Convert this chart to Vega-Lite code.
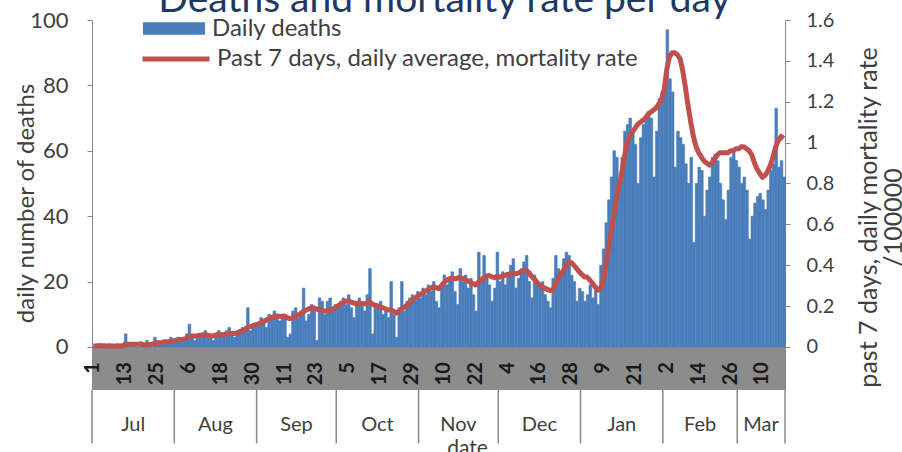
{
"$schema": "https://vega.github.io/schema/vega-lite/v6.json",
"width": 693, "height": 370,
"autosize": {"type": "none"},
"padding": {"left": 92, "top": 20, "right": 117, "bottom": 62},
"config": {"view": {"stroke": null}, "font": "Lato",
"axisX": {"labels": false, "ticks": false, "domain": false, "grid": false, "zindex": 1, "titleFontSize": 21, "titleFontWeight": "normal", "titleColor": "#404040", "titleX": 375, "titleY": 64, "titleBaseline": "alphabetic", "titleAlign": "center"}},
"title": {"text": "Deaths and mortality rate per day", "fontSize": 39, "fontWeight": "normal", "color": "#1f3864", "anchor": "middle", "dx": 6, "offset": -53, "baseline": "alphabetic"},
"datasets": {
"days": [
{"t": "2020-07-01T12:00:00Z", "lab": "1"},{"t": "2020-07-13T12:00:00Z", "lab": "13"},{"t": "2020-07-25T12:00:00Z", "lab": "25"},
{"t": "2020-08-06T12:00:00Z", "lab": "6"},{"t": "2020-08-18T12:00:00Z", "lab": "18"},{"t": "2020-08-30T12:00:00Z", "lab": "30"},
{"t": "2020-09-11T12:00:00Z", "lab": "11"},{"t": "2020-09-23T12:00:00Z", "lab": "23"},
{"t": "2020-10-05T12:00:00Z", "lab": "5"},{"t": "2020-10-17T12:00:00Z", "lab": "17"},{"t": "2020-10-29T12:00:00Z", "lab": "29"},
{"t": "2020-11-10T12:00:00Z", "lab": "10"},{"t": "2020-11-22T12:00:00Z", "lab": "22"},
{"t": "2020-12-04T12:00:00Z", "lab": "4"},{"t": "2020-12-16T12:00:00Z", "lab": "16"},{"t": "2020-12-28T12:00:00Z", "lab": "28"},
{"t": "2021-01-09T12:00:00Z", "lab": "9"},{"t": "2021-01-21T12:00:00Z", "lab": "21"},
{"t": "2021-02-02T12:00:00Z", "lab": "2"},{"t": "2021-02-14T12:00:00Z", "lab": "14"},{"t": "2021-02-26T12:00:00Z", "lab": "26"},
{"t": "2021-03-10T12:00:00Z", "lab": "10"}
],
"months": [
{"m": "Jul", "mid": "2020-07-16T12:00:00Z"},
{"m": "Aug", "mid": "2020-08-16T12:00:00Z"},
{"m": "Sep", "mid": "2020-09-16T00:00:00Z"},
{"m": "Oct", "mid": "2020-10-16T12:00:00Z"},
{"m": "Nov", "mid": "2020-11-16T00:00:00Z"},
{"m": "Dec", "mid": "2020-12-16T12:00:00Z"},
{"m": "Jan", "mid": "2021-01-16T12:00:00Z"},
{"m": "Feb", "mid": "2021-02-15T00:00:00Z"},
{"m": "Mar", "mid": "2021-03-10T00:00:00Z"}
],
"bounds": [
{"b": "2020-07-01T00:00:00Z"},{"b": "2020-08-01T00:00:00Z"},{"b": "2020-09-01T00:00:00Z"},{"b": "2020-10-01T00:00:00Z"},{"b": "2020-11-01T00:00:00Z"},{"b": "2020-12-01T00:00:00Z"},{"b": "2021-01-01T00:00:00Z"},{"b": "2021-02-01T00:00:00Z"},{"b": "2021-03-01T00:00:00Z"},{"b": "2021-03-19T00:00:00Z"}
],
"daily": [
{"d":"2020-07-01","deaths":0,"rate":0.005},{"d":"2020-07-02","deaths":0,"rate":0.005},{"d":"2020-07-03","deaths":1,"rate":0.006},{"d":"2020-07-04","deaths":0,"rate":0.006},{"d":"2020-07-05","deaths":0,"rate":0.006},{"d":"2020-07-06","deaths":0,"rate":0.005},{"d":"2020-07-07","deaths":1,"rate":0.005},{"d":"2020-07-08","deaths":0,"rate":0.005},{"d":"2020-07-09","deaths":0,"rate":0.005},{"d":"2020-07-10","deaths":1,"rate":0.005},
{"d":"2020-07-11","deaths":0,"rate":0.005},{"d":"2020-07-12","deaths":0,"rate":0.005},{"d":"2020-07-13","deaths":4,"rate":0.014},{"d":"2020-07-14","deaths":1,"rate":0.014},{"d":"2020-07-15","deaths":0,"rate":0.014},{"d":"2020-07-16","deaths":1,"rate":0.014},{"d":"2020-07-17","deaths":0,"rate":0.014},{"d":"2020-07-18","deaths":0,"rate":0.014},{"d":"2020-07-19","deaths":1,"rate":0.016},{"d":"2020-07-20","deaths":1,"rate":0.010},
{"d":"2020-07-21","deaths":2,"rate":0.011},{"d":"2020-07-22","deaths":1,"rate":0.011},{"d":"2020-07-23","deaths":0,"rate":0.014},{"d":"2020-07-24","deaths":3,"rate":0.016},{"d":"2020-07-25","deaths":2,"rate":0.021},{"d":"2020-07-26","deaths":1,"rate":0.021},{"d":"2020-07-27","deaths":2,"rate":0.022},{"d":"2020-07-28","deaths":2,"rate":0.026},{"d":"2020-07-29","deaths":1,"rate":0.026},{"d":"2020-07-30","deaths":3,"rate":0.027},
{"d":"2020-07-31","deaths":2,"rate":0.030},
{"d":"2020-08-01","deaths":2,"rate":0.032},{"d":"2020-08-02","deaths":3,"rate":0.037},{"d":"2020-08-03","deaths":2,"rate":0.037},{"d":"2020-08-04","deaths":3,"rate":0.038},{"d":"2020-08-05","deaths":4,"rate":0.043},{"d":"2020-08-06","deaths":7,"rate":0.054},{"d":"2020-08-07","deaths":3,"rate":0.054},{"d":"2020-08-08","deaths":2,"rate":0.054},{"d":"2020-08-09","deaths":3,"rate":0.054},{"d":"2020-08-10","deaths":4,"rate":0.058},
{"d":"2020-08-11","deaths":3,"rate":0.059},{"d":"2020-08-12","deaths":5,"rate":0.062},{"d":"2020-08-13","deaths":4,"rate":0.058},{"d":"2020-08-14","deaths":3,"rate":0.054},{"d":"2020-08-15","deaths":2,"rate":0.054},{"d":"2020-08-16","deaths":4,"rate":0.058},{"d":"2020-08-17","deaths":5,"rate":0.062},{"d":"2020-08-18","deaths":4,"rate":0.062},{"d":"2020-08-19","deaths":3,"rate":0.059},{"d":"2020-08-20","deaths":5,"rate":0.064},
{"d":"2020-08-21","deaths":6,"rate":0.066},{"d":"2020-08-22","deaths":4,"rate":0.066},{"d":"2020-08-23","deaths":3,"rate":0.066},{"d":"2020-08-24","deaths":5,"rate":0.066},{"d":"2020-08-25","deaths":5,"rate":0.074},{"d":"2020-08-26","deaths":6,"rate":0.080},{"d":"2020-08-27","deaths":6,"rate":0.083},{"d":"2020-08-28","deaths":12,"rate":0.096},{"d":"2020-08-29","deaths":5,"rate":0.099},{"d":"2020-08-30","deaths":7,"rate":0.104},
{"d":"2020-08-31","deaths":7,"rate":0.109},
{"d":"2020-09-01","deaths":7,"rate":0.112},{"d":"2020-09-02","deaths":9,"rate":0.118},{"d":"2020-09-03","deaths":8,"rate":0.125},{"d":"2020-09-04","deaths":6,"rate":0.130},{"d":"2020-09-05","deaths":10,"rate":0.138},{"d":"2020-09-06","deaths":9,"rate":0.144},{"d":"2020-09-07","deaths":11,"rate":0.149},{"d":"2020-09-08","deaths":10,"rate":0.152},{"d":"2020-09-09","deaths":8,"rate":0.150},{"d":"2020-09-10","deaths":10,"rate":0.149},
{"d":"2020-09-11","deaths":9,"rate":0.152},{"d":"2020-09-12","deaths":3,"rate":0.144},{"d":"2020-09-13","deaths":4,"rate":0.139},{"d":"2020-09-14","deaths":11,"rate":0.142},{"d":"2020-09-15","deaths":12,"rate":0.149},{"d":"2020-09-16","deaths":9,"rate":0.157},{"d":"2020-09-17","deaths":11,"rate":0.160},{"d":"2020-09-18","deaths":18,"rate":0.173},{"d":"2020-09-19","deaths":8,"rate":0.179},{"d":"2020-09-20","deaths":10,"rate":0.186},
{"d":"2020-09-21","deaths":13,"rate":0.190},{"d":"2020-09-22","deaths":12,"rate":0.192},{"d":"2020-09-23","deaths":2,"rate":0.186},{"d":"2020-09-24","deaths":15,"rate":0.182},{"d":"2020-09-25","deaths":14,"rate":0.179},{"d":"2020-09-26","deaths":10,"rate":0.176},{"d":"2020-09-27","deaths":14,"rate":0.176},{"d":"2020-09-28","deaths":15,"rate":0.178},{"d":"2020-09-29","deaths":12,"rate":0.184},{"d":"2020-09-30","deaths":13,"rate":0.192},
{"d":"2020-10-01","deaths":12,"rate":0.200},{"d":"2020-10-02","deaths":14,"rate":0.208},{"d":"2020-10-03","deaths":15,"rate":0.218},{"d":"2020-10-04","deaths":13,"rate":0.224},{"d":"2020-10-05","deaths":16,"rate":0.226},{"d":"2020-10-06","deaths":12,"rate":0.221},{"d":"2020-10-07","deaths":9,"rate":0.216},{"d":"2020-10-08","deaths":14,"rate":0.211},{"d":"2020-10-09","deaths":15,"rate":0.213},{"d":"2020-10-10","deaths":13,"rate":0.214},
{"d":"2020-10-11","deaths":11,"rate":0.211},{"d":"2020-10-12","deaths":16,"rate":0.214},{"d":"2020-10-13","deaths":24,"rate":0.222},{"d":"2020-10-14","deaths":4,"rate":0.210},{"d":"2020-10-15","deaths":13,"rate":0.205},{"d":"2020-10-16","deaths":12,"rate":0.202},{"d":"2020-10-17","deaths":14,"rate":0.197},{"d":"2020-10-18","deaths":10,"rate":0.192},{"d":"2020-10-19","deaths":11,"rate":0.187},{"d":"2020-10-20","deaths":9,"rate":0.181},
{"d":"2020-10-21","deaths":20,"rate":0.182},{"d":"2020-10-22","deaths":10,"rate":0.176},{"d":"2020-10-23","deaths":3,"rate":0.166},{"d":"2020-10-24","deaths":12,"rate":0.173},{"d":"2020-10-25","deaths":20,"rate":0.186},{"d":"2020-10-26","deaths":11,"rate":0.192},{"d":"2020-10-27","deaths":14,"rate":0.203},{"d":"2020-10-28","deaths":15,"rate":0.214},{"d":"2020-10-29","deaths":16,"rate":0.227},{"d":"2020-10-30","deaths":14,"rate":0.237},
{"d":"2020-10-31","deaths":17,"rate":0.248},
{"d":"2020-11-01","deaths":15,"rate":0.256},{"d":"2020-11-02","deaths":18,"rate":0.264},{"d":"2020-11-03","deaths":16,"rate":0.272},{"d":"2020-11-04","deaths":19,"rate":0.280},{"d":"2020-11-05","deaths":17,"rate":0.288},{"d":"2020-11-06","deaths":20,"rate":0.294},{"d":"2020-11-07","deaths":14,"rate":0.291},{"d":"2020-11-08","deaths":12,"rate":0.285},{"d":"2020-11-09","deaths":18,"rate":0.298},{"d":"2020-11-10","deaths":22,"rate":0.314},
{"d":"2020-11-11","deaths":19,"rate":0.328},{"d":"2020-11-12","deaths":21,"rate":0.333},{"d":"2020-11-13","deaths":23,"rate":0.339},{"d":"2020-11-14","deaths":17,"rate":0.334},{"d":"2020-11-15","deaths":13,"rate":0.336},{"d":"2020-11-16","deaths":24,"rate":0.341},{"d":"2020-11-17","deaths":20,"rate":0.336},{"d":"2020-11-18","deaths":22,"rate":0.330},{"d":"2020-11-19","deaths":18,"rate":0.323},{"d":"2020-11-20","deaths":21,"rate":0.317},
{"d":"2020-11-21","deaths":16,"rate":0.310},{"d":"2020-11-22","deaths":11,"rate":0.304},{"d":"2020-11-23","deaths":29,"rate":0.317},{"d":"2020-11-24","deaths":20,"rate":0.326},{"d":"2020-11-25","deaths":28,"rate":0.339},{"d":"2020-11-26","deaths":22,"rate":0.347},{"d":"2020-11-27","deaths":19,"rate":0.350},{"d":"2020-11-28","deaths":14,"rate":0.344},{"d":"2020-11-29","deaths":18,"rate":0.339},{"d":"2020-11-30","deaths":29,"rate":0.346},
{"d":"2020-12-01","deaths":20,"rate":0.342},{"d":"2020-12-02","deaths":23,"rate":0.346},{"d":"2020-12-03","deaths":19,"rate":0.350},{"d":"2020-12-04","deaths":22,"rate":0.355},{"d":"2020-12-05","deaths":25,"rate":0.358},{"d":"2020-12-06","deaths":27,"rate":0.362},{"d":"2020-12-07","deaths":18,"rate":0.358},{"d":"2020-12-08","deaths":21,"rate":0.362},{"d":"2020-12-09","deaths":24,"rate":0.368},{"d":"2020-12-10","deaths":26,"rate":0.373},
{"d":"2020-12-11","deaths":28,"rate":0.376},{"d":"2020-12-12","deaths":20,"rate":0.365},{"d":"2020-12-13","deaths":15,"rate":0.346},{"d":"2020-12-14","deaths":22,"rate":0.333},{"d":"2020-12-15","deaths":19,"rate":0.318},{"d":"2020-12-16","deaths":18,"rate":0.304},{"d":"2020-12-17","deaths":20,"rate":0.293},{"d":"2020-12-18","deaths":16,"rate":0.288},{"d":"2020-12-19","deaths":14,"rate":0.282},{"d":"2020-12-20","deaths":12,"rate":0.277},
{"d":"2020-12-21","deaths":21,"rate":0.278},{"d":"2020-12-22","deaths":28,"rate":0.304},{"d":"2020-12-23","deaths":24,"rate":0.330},{"d":"2020-12-24","deaths":22,"rate":0.352},{"d":"2020-12-25","deaths":27,"rate":0.374},{"d":"2020-12-26","deaths":29,"rate":0.397},{"d":"2020-12-27","deaths":28,"rate":0.416},{"d":"2020-12-28","deaths":22,"rate":0.413},{"d":"2020-12-29","deaths":20,"rate":0.400},{"d":"2020-12-30","deaths":14,"rate":0.384},
{"d":"2020-12-31","deaths":18,"rate":0.368},
{"d":"2021-01-01","deaths":17,"rate":0.355},{"d":"2021-01-02","deaths":14,"rate":0.342},{"d":"2021-01-03","deaths":16,"rate":0.342},{"d":"2021-01-04","deaths":19,"rate":0.328},{"d":"2021-01-05","deaths":15,"rate":0.312},{"d":"2021-01-06","deaths":18,"rate":0.294},{"d":"2021-01-07","deaths":13,"rate":0.278},{"d":"2021-01-08","deaths":25,"rate":0.288},{"d":"2021-01-09","deaths":30,"rate":0.320},{"d":"2021-01-10","deaths":38,"rate":0.400},
{"d":"2021-01-11","deaths":45,"rate":0.480},{"d":"2021-01-12","deaths":52,"rate":0.560},{"d":"2021-01-13","deaths":60,"rate":0.640},{"d":"2021-01-14","deaths":58,"rate":0.720},{"d":"2021-01-15","deaths":48,"rate":0.790},{"d":"2021-01-16","deaths":58,"rate":0.850},{"d":"2021-01-17","deaths":66,"rate":0.930},{"d":"2021-01-18","deaths":68,"rate":1.000},{"d":"2021-01-19","deaths":70,"rate":1.030},{"d":"2021-01-20","deaths":66,"rate":1.050},
{"d":"2021-01-21","deaths":62,"rate":1.070},{"d":"2021-01-22","deaths":50,"rate":1.090},{"d":"2021-01-23","deaths":64,"rate":1.100},{"d":"2021-01-24","deaths":68,"rate":1.110},{"d":"2021-01-25","deaths":70,"rate":1.120},{"d":"2021-01-26","deaths":72,"rate":1.140},{"d":"2021-01-27","deaths":70,"rate":1.150},{"d":"2021-01-28","deaths":52,"rate":1.160},{"d":"2021-01-29","deaths":66,"rate":1.170},{"d":"2021-01-30","deaths":76,"rate":1.190},
{"d":"2021-01-31","deaths":78,"rate":1.210},
{"d":"2021-02-01","deaths":80,"rate":1.260},{"d":"2021-02-02","deaths":97,"rate":1.360},{"d":"2021-02-03","deaths":82,"rate":1.420},{"d":"2021-02-04","deaths":78,"rate":1.440},{"d":"2021-02-05","deaths":55,"rate":1.440},{"d":"2021-02-06","deaths":66,"rate":1.430},{"d":"2021-02-07","deaths":64,"rate":1.410},{"d":"2021-02-08","deaths":62,"rate":1.350},{"d":"2021-02-09","deaths":56,"rate":1.270},{"d":"2021-02-10","deaths":50,"rate":1.180},
{"d":"2021-02-11","deaths":58,"rate":1.100},{"d":"2021-02-12","deaths":32,"rate":1.030},{"d":"2021-02-13","deaths":50,"rate":0.980},{"d":"2021-02-14","deaths":55,"rate":0.950},{"d":"2021-02-15","deaths":54,"rate":0.930},{"d":"2021-02-16","deaths":40,"rate":0.910},{"d":"2021-02-17","deaths":48,"rate":0.900},{"d":"2021-02-18","deaths":52,"rate":0.890},{"d":"2021-02-19","deaths":58,"rate":0.900},{"d":"2021-02-20","deaths":59,"rate":0.920},
{"d":"2021-02-21","deaths":57,"rate":0.940},{"d":"2021-02-22","deaths":50,"rate":0.950},{"d":"2021-02-23","deaths":45,"rate":0.950},{"d":"2021-02-24","deaths":39,"rate":0.950},{"d":"2021-02-25","deaths":48,"rate":0.950},{"d":"2021-02-26","deaths":58,"rate":0.960},{"d":"2021-02-27","deaths":60,"rate":0.960},{"d":"2021-02-28","deaths":57,"rate":0.970},
{"d":"2021-03-01","deaths":55,"rate":0.970},{"d":"2021-03-02","deaths":50,"rate":0.980},{"d":"2021-03-03","deaths":52,"rate":0.980},{"d":"2021-03-04","deaths":48,"rate":0.970},{"d":"2021-03-05","deaths":33,"rate":0.960},{"d":"2021-03-06","deaths":40,"rate":0.940},{"d":"2021-03-07","deaths":44,"rate":0.900},{"d":"2021-03-08","deaths":46,"rate":0.870},{"d":"2021-03-09","deaths":47,"rate":0.850},{"d":"2021-03-10","deaths":45,"rate":0.830},
{"d":"2021-03-11","deaths":42,"rate":0.840},{"d":"2021-03-12","deaths":48,"rate":0.860},{"d":"2021-03-13","deaths":54,"rate":0.890},{"d":"2021-03-14","deaths":56,"rate":0.930},{"d":"2021-03-15","deaths":73,"rate":0.980},{"d":"2021-03-16","deaths":55,"rate":1.010},{"d":"2021-03-17","deaths":57,"rate":1.030},{"d":"2021-03-18","deaths":52,"rate":1.020}
]
},
"layer": [
{
"layer": [
{
"data": {"values": [{}]},
"mark": {"type": "rect", "color": "#8c8c8c"},
"encoding": {"y": {"datum": -13.15}, "y2": {"datum": 0}}
},
{
"data": {"name": "daily"},
"mark": {"type": "bar", "binSpacing": 0, "stroke": "#4a7ebb", "strokeWidth": 0.6},
"encoding": {
"x": {"field": "d", "type": "temporal", "timeUnit": "utcyearmonthdate", "title": "date",
"scale": {"type": "utc", "domain": [{"year": 2020, "month": 7, "date": 1, "utc": true}, {"year": 2021, "month": 3, "date": 19, "utc": true}]},
"axis": {"title": "date", "labels": false, "ticks": false, "domain": false, "grid": false, "zindex": 1}},
"y": {"field": "deaths", "type": "quantitative", "scale": {"domain": [-13.15, 100], "nice": false, "zero": false},
"axis": {"title": "daily number of deaths", "values": [0,10,20,30,40,50,60,70,80,90,100], "grid": false, "domainColor": "#868686", "tickColor": "#868686", "tickSize": 5,
"labelFontSize": 22, "labelColor": "#404040", "labelPadding": 19, "titleFontSize": 24, "titleFontWeight": "normal", "titleColor": "#404040", "titleAngle": 270, "titleX": -66, "titleY": 183, "titleBaseline": "middle", "titleAlign": "center"}},
"y2": {"datum": 0},
"fill": {"datum": "Daily deaths", "scale": {"range": ["#4a7ebb"]},
"legend": {"orient": "none", "legendX": 51, "legendY": -22.5, "title": null, "padding": 0, "symbolType": "M-1,-0.2H1V0.2H-1Z", "symbolSize": 3844, "symbolStrokeWidth": 0, "labelFontSize": 24, "labelColor": "#404040", "labelOffset": 7, "labelLimit": 0}}
}
},
{
"data": {"name": "days"},
"mark": {"type": "text", "angle": 270, "align": "right", "baseline": "middle", "fontSize": 20, "fontWeight": "bold", "color": "#1a1a1a"},
"encoding": {"x": {"field": "t", "type": "temporal", "title": "date", "axis": {"title": "date", "labels": false, "ticks": false, "domain": false, "grid": false, "zindex": 1}}, "y": {"datum": -4.6}, "text": {"field": "lab"}}
},
{
"data": {"name": "bounds"},
"mark": {"type": "rule", "color": "#8a8a8a", "strokeWidth": 1.5},
"encoding": {"x": {"field": "b", "type": "temporal", "title": "date", "axis": {"title": "date", "labels": false, "ticks": false, "domain": false, "grid": false, "zindex": 1}}, "y": {"datum": -13.15}, "y2": {"datum": -29.5}}
},
{
"data": {"name": "months"},
"mark": {"type": "text", "fontSize": 20, "color": "#404040", "baseline": "middle", "align": "center"},
"encoding": {"x": {"field": "mid", "type": "temporal", "title": "date", "axis": {"title": "date", "labels": false, "ticks": false, "domain": false, "grid": false, "zindex": 1}}, "y": {"datum": -24}, "text": {"field": "m"}}
}
]
},
{
"data": {"name": "daily"},
"mark": {"type": "line", "strokeWidth": 5, "strokeJoin": "round"},
"encoding": {
"x": {"field": "d", "type": "temporal", "timeUnit": "utcyearmonthdate", "bandPosition": 0.5, "title": "date",
"axis": {"title": "date", "labels": false, "ticks": false, "domain": false, "grid": false, "zindex": 1}},
"y": {"field": "rate", "type": "quantitative", "scale": {"domain": [-0.2104, 1.6], "nice": false, "zero": false},
"axis": {"orient": "right", "title": ["past 7 days, daily mortality rate", "/100000"], "values": [0,0.2,0.4,0.6,0.8,1,1.2,1.4,1.6], "format": "~g", "grid": false,
"domainColor": "#868686", "tickColor": "#868686", "tickSize": 5, "labelFontSize": 20, "labelColor": "#404040", "labelPadding": 16,
"titleFontSize": 25, "titleFontWeight": "normal", "titleColor": "#404040", "titleAngle": 270, "titleX": 83, "titleY": 197, "titleBaseline": "middle", "titleAlign": "center", "titleLineHeight": 25}},
"stroke": {"datum": "Past 7 days, daily average, mortality rate", "scale": {"range": ["#c0504d"]},
"legend": {"orient": "none", "legendX": 48, "legendY": 3, "title": null, "padding": 0, "symbolType": "stroke", "symbolSize": 4489, "symbolStrokeWidth": 5, "labelFontSize": 24, "labelColor": "#404040", "labelOffset": 5, "labelLimit": 0}}
}
}
],
"resolve": {"scale": {"y": "independent"}}
}
